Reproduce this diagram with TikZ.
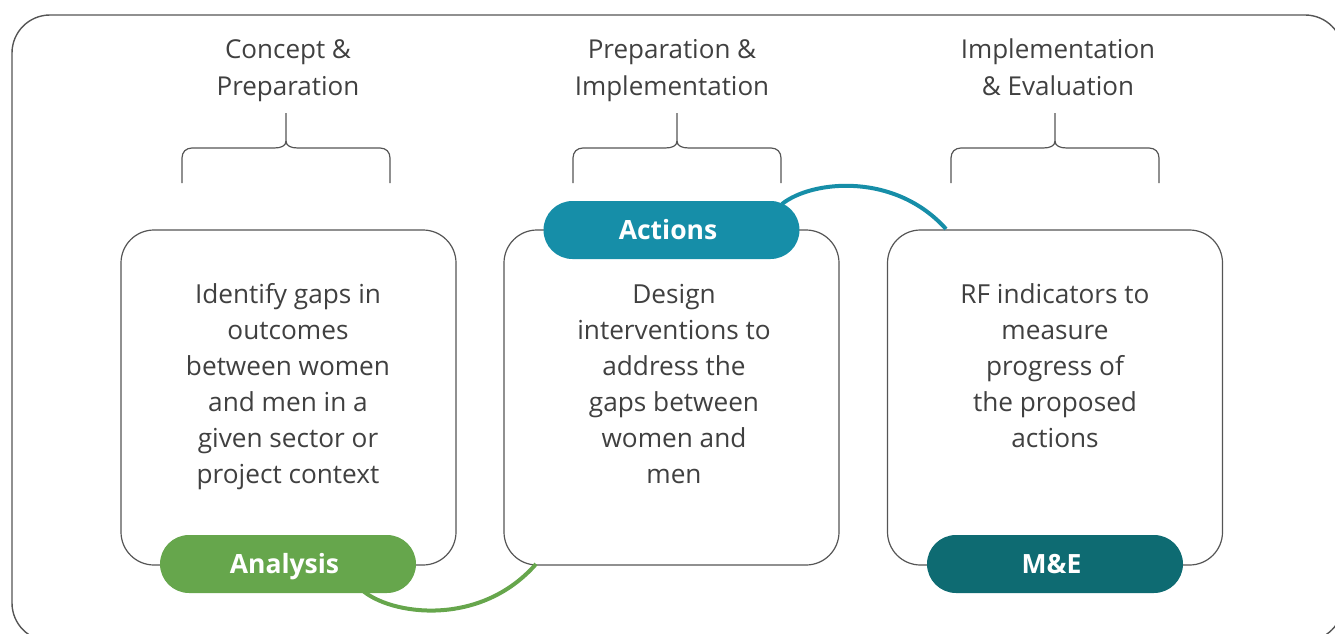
\documentclass[tikz,border=0pt]{standalone}
\usepackage{fontspec}
\setmainfont{Open Sans}
\usetikzlibrary{calc}
\definecolor{txtgray}{HTML}{404040}
\definecolor{linegray}{HTML}{555555}
\definecolor{ggreen}{HTML}{66A64C}
\definecolor{gteal}{HTML}{168EA8}
\definecolor{gdark}{HTML}{0E6B72}
\tikzset{
  frame/.style={draw=linegray, line width=1.4pt, rounded corners=38pt},
  stagebox/.style={draw=linegray, line width=1.2pt, rounded corners=33pt,
    minimum width=335pt, minimum height=335pt, inner sep=0pt, fill=white},
  pill/.style={rounded corners=29pt, minimum width=256pt, minimum height=58pt,
    inner sep=0pt, text=white, text height=19pt, text depth=0pt,
    font=\fontsize{26.5}{30}\selectfont\bfseries, execute at end node={\kern7pt}},
  bodytxt/.style={align=center, text=txtgray, inner sep=0pt,
    font=\fontsize{26.2}{36}\selectfont},
  headtxt/.style={align=center, text=txtgray, inner sep=0pt,
    font=\fontsize{26}{36}\selectfont},
  bracestyle/.style={draw=linegray, line width=1.2pt},
  link/.style={line width=4pt},
  pics/cbrace/.style={code={
    \draw[bracestyle] (-104,35) -- (-104,10) .. controls (-104,4) and (-100,0) .. (-94,0)
      -- (-12,0) .. controls (-5,0) and (0,-2) .. (0,-7) -- (0,-35);
    \draw[bracestyle] (104,35) -- (104,10) .. controls (104,4) and (100,0) .. (94,0)
      -- (12,0) .. controls (5,0) and (0,-2) .. (0,-7);
  }}
}
\begin{document}
\begin{tikzpicture}[x=1pt,y=-1pt]
\useasboundingbox (0,0) rectangle (1335,634);
\clip (0,0) rectangle (1335,634);
\draw[frame] (12,15) rectangle (1343,641);

% headings (anchor base = last line)
\node[headtxt, anchor=base] (h1) at (288,95) {Concept \&\\Preparation};
\node[headtxt, anchor=base] (h2) at (672,95) {Preparation \&\\Implementation};
\node[headtxt, anchor=base] (h3) at (1058,95) {Implementation\\\& Evaluation};

% braces
\pic at (286,148) {cbrace};
\pic at (677,148) {cbrace};
\pic at (1055,148) {cbrace};

% connector end points
\coordinate (g0) at (362,590);
\coordinate (g1) at (536,564);
\coordinate (t0) at (782,204);
\coordinate (t1) at (946,229);

% stage boxes
\node[stagebox] (b1) at (288.5,397.5) {};
\node[stagebox] (b2) at (671.5,397.5) {};
\node[stagebox] (b3) at (1055,397.5) {};

\draw[link, ggreen] (g0) .. controls (390,615) and (480,628) .. (g1);
\draw[link, gteal] (t0) .. controls (812,180) and (895,172) .. (t1);

% body texts (anchor base = last line)
\node[bodytxt, anchor=base] (x1) at (288,483) {Identify gaps in\\outcomes\\between women\\and men in a\\given sector or\\project context};
\node[bodytxt, anchor=base] (x2) at (674,483) {Design\\interventions to\\address the\\gaps between\\women and\\men};
\node[bodytxt, anchor=base] (x3) at (1055,447) {RF indicators to\\measure\\progress of\\the proposed\\actions};

% pills
\node[pill, fill=ggreen] (an) at (288,564) {Analysis};
\node[pill, fill=gteal] (ac) at (671.5,230) {Actions};
\node[pill, fill=gdark] (me) at (1055,564) {M\&E};
\end{tikzpicture}
\end{document}
